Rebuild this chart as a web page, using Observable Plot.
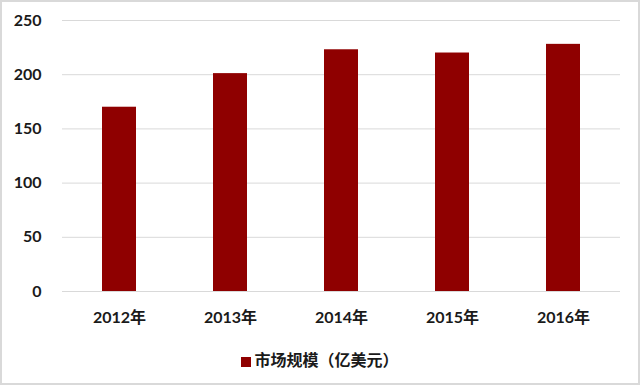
<!DOCTYPE html>
<html>
<head>
<meta charset="utf-8">
<script src="https://cdn.jsdelivr.net/npm/d3@7"></script>
<script src="https://cdn.jsdelivr.net/npm/@observablehq/plot@0.6"></script>
<style>
  html, body { margin: 0; padding: 0; background: #fff; }
  #wrap { position: relative; width: 640px; height: 385px; overflow: hidden; background: #fff; }
  #frame { position: absolute; left: 0; top: 0; width: 640px; height: 385px; box-sizing: border-box; border: 2px solid #d9d9d9; pointer-events: none; }
  #legend { position: absolute; left: 0; top: 347px; width: 640px; text-align: center;
    font-family: Lato, "Noto Sans CJK SC", sans-serif; font-weight: bold; font-size: 16px; color: #1a1a1a; }
  #legend .sw { display: inline-block; width: 10px; height: 10px; margin-right: 3px; vertical-align: -1px; }
  svg text { font-family: Lato, "Noto Sans CJK SC", sans-serif; }
</style>
</head>
<body>
<div id="wrap">
  <div id="chart"></div>
  <div id="legend"></div>
  <div id="frame"></div>
</div>
<script>
const years = ["2012年", "2013年", "2014年", "2015年", "2016年"];
const values = [170, 201, 223, 220, 228];
const seriesName = "市场规模（亿美元）";
const barColor = "#8f0000";
const yTicks = [0, 50, 100, 150, 200, 250];

const data = years.map((y, i) => ({year: y, value: values[i]}));

const chart = Plot.plot({
  width: 640,
  height: 335,
  marginTop: 20,
  marginBottom: 44,
  marginLeft: 62,
  marginRight: 20,
  style: {fontSize: "16px", fontWeight: "bold", color: "#1a1a1a", background: "transparent"},
  x: {domain: years, paddingInner: 0.69, paddingOuter: 0.35, label: null, tickSize: 0},
  y: {domain: [0, 250], ticks: yTicks, label: null, tickSize: 0},
  marks: [
    Plot.gridY(yTicks, {stroke: "#d9d9d9", strokeOpacity: 1}),
    Plot.barY(data, {x: "year", y: "value", fill: barColor}),
    Plot.axisX({tickSize: 0, tickPadding: 20, label: null}),
    Plot.axisY({ticks: yTicks, tickSize: 0, tickPadding: 21, label: null})
  ]
});
document.getElementById("chart").appendChild(chart);

const lg = document.getElementById("legend");
const sw = document.createElement("span");
sw.className = "sw";
sw.style.background = barColor;
lg.appendChild(sw);
lg.appendChild(document.createTextNode(seriesName));
</script>
</body>
</html>
